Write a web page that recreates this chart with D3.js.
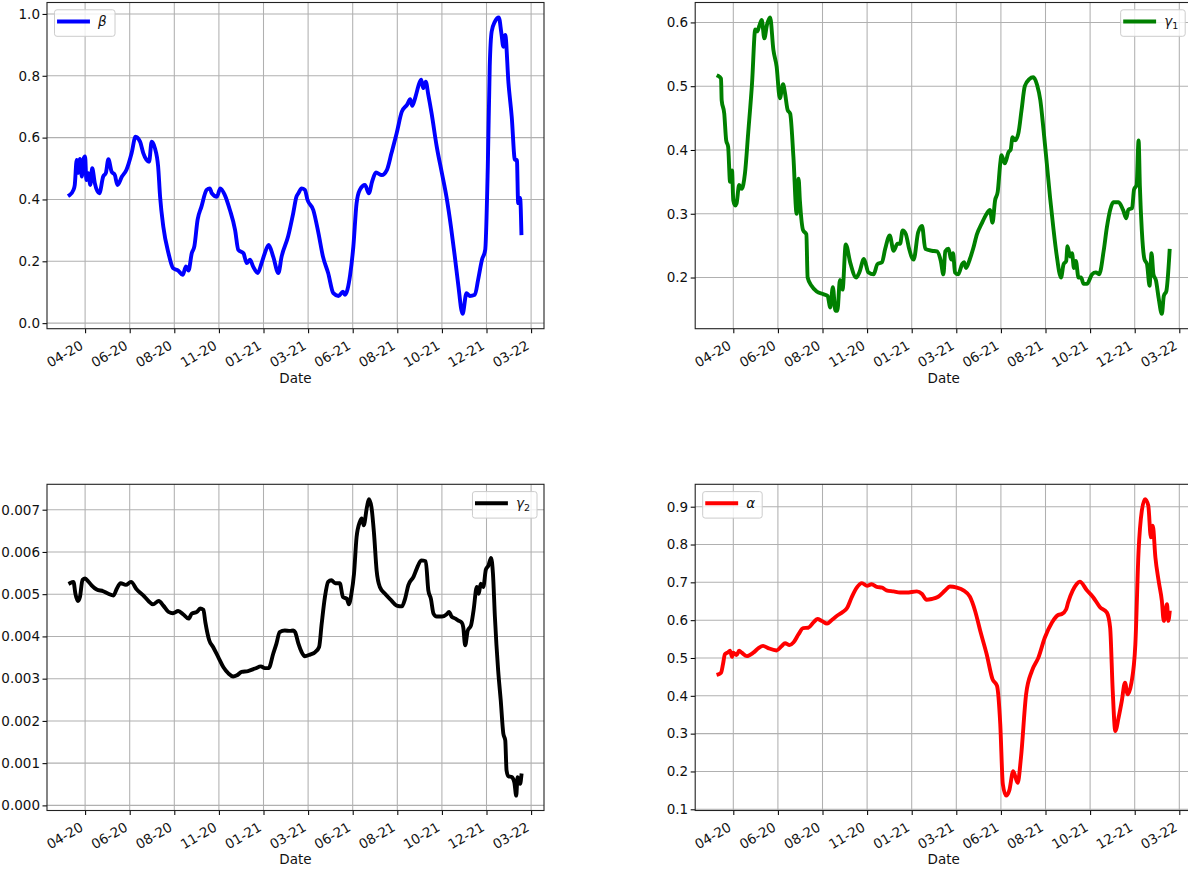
<!DOCTYPE html>
<html><head><meta charset="utf-8">
<script src="https://cdn.jsdelivr.net/npm/d3@7"></script>
<style>
body{margin:0;background:#fff}
svg{display:block}
text{font-family:"DejaVu Sans",sans-serif}
</style>
</head><body>
<svg id="c" width="1188" height="872"></svg>
<script>
// ---------------- data ----------------
// x values: days since the first observation (START_DATE)
const START_DATE = "2020-03-21";
const xTickDates = ["2020-04-14","2020-06-22","2020-08-30","2020-11-07","2021-01-15","2021-03-25","2021-06-02","2021-08-10","2021-10-18","2021-12-26","2022-03-05"];

const betaPoints = [[0,.414],[6,.431],[8,.447],[11,.528],[13,.486],[16,.531],[19,.474],[21,.528],[24,.539],[26,.463],[29,.485],[32,.447],[35,.501],[39,.453],[46,.42],[52,.474],[56,.485],[60,.53],[65,.49],[70,.479],[74,.447],[81,.474],[88,.496],[96,.55],[102,.603],[109,.587],[114,.55],[119,.528],[123,.522],[127,.587],[132,.566],[137,.506],[140,.409],[145,.312],[153,.226],[160,.178],[168,.17],[175,.156],[180,.183],[184,.17],[189,.226],[193,.248],[198,.334],[204,.377],[212,.431],[217,.436],[220,.42],[228,.409],[233,.436],[240,.415],[248,.366],[256,.302],[261,.237],[269,.226],[274,.194],[279,.205],[284,.183],[291,.162],[297,.194],[302,.226],[308,.253],[315,.215],[323,.162],[328,.215],[338,.28],[346,.356],[351,.409],[354,.42],[359,.436],[364,.431],[368,.399],[377,.366],[385,.291],[392,.215],[400,.162],[408,.097],[416,.088],[423,.102],[426,.092],[434,.156],[439,.248],[444,.388],[449,.431],[457,.447],[463,.42],[468,.458],[474,.487],[483,.479],[491,.496],[498,.55],[506,.614],[514,.684],[522,.706],[527,.724],[530,.703],[535,.731],[541,.776],[544,.787],[547,.76],[551,.781],[555,.738],[560,.679],[568,.571],[576,.485],[583,.409],[590,.312],[596,.215],[601,.129],[608,.03],[614,.097],[619,.088],[627,.092],[632,.14],[638,.205],[643,.237],[647,.506],[650,.83],[653,.943],[658,.975],[664,.989],[668,.938],[671,.894],[674,.932],[679,.776],[684,.668],[689,.528],[692,.528],[694,.388],[697,.405],[699,.291]];

const gamma1Points = [[1,.516],[5,.512],[6,.478],[10,.457],[13,.415],[16,.405],[19,.35],[22,.368],[24,.321],[27,.313],[29,.316],[33,.345],[37,.339],[42,.363],[47,.426],[53,.505],[58,.589],[61,.586],[64,.594],[68,.604],[72,.575],[76,.596],[81,.608],[86,.557],[91,.531],[96,.481],[101,.503],[104,.489],[108,.463],[112,.457],[117,.389],[122,.3],[125,.355],[127,.321],[132,.274],[137,.268],[139,.2],[145,.187],[153,.178],[163,.174],[170,.171],[174,.153],[178,.185],[182,.148],[185,.148],[189,.196],[193,.181],[198,.252],[205,.223],[214,.2],[219,.208],[226,.229],[233,.208],[241,.205],[247,.221],[254,.224],[259,.245],[266,.266],[272,.242],[278,.253],[282,.253],[286,.274],[291,.268],[296,.245],[303,.228],[310,.271],[316,.281],[321,.245],[331,.242],[339,.241],[345,.226],[349,.205],[352,.241],[357,.245],[361,.228],[364,.238],[367,.208],[372,.205],[378,.221],[381,.224],[384,.215],[390,.229],[395,.245],[401,.268],[408,.284],[416,.3],[421,.306],[425,.286],[429,.321],[433,.334],[437,.379],[439,.392],[444,.379],[450,.397],[453,.4],[456,.42],[460,.415],[465,.426],[470,.463],[475,.5],[482,.511],[488,.514],[494,.502],[499,.478],[504,.431],[509,.379],[514,.326],[519,.279],[524,.237],[531,.2],[535,.221],[539,.226],[541,.249],[545,.233],[548,.238],[551,.215],[554,.226],[558,.2],[562,.2],[566,.19],[571,.19],[579,.205],[585,.208],[590,.205],[597,.242],[602,.279],[607,.306],[612,.318],[620,.318],[627,.306],[632,.293],[635,.306],[641,.309],[644,.338],[648,.345],[651,.415],[653,.343],[656,.274],[660,.229],[664,.221],[668,.187],[671,.238],[674,.205],[678,.195],[682,.168],[687,.143],[690,.171],[694,.179],[699,.242]];

const gamma2Points = [[1,.005264],[6,.00529],[9,.00501],[13,.00484],[16,.00493],[20,.00534],[24,.00537],[29,.0053],[34,.00521],[42,.00511],[52,.00507],[60,.00501],[68,.00497],[73,.00513],[79,.00526],[87,.00522],[95,.00529],[104,.00511],[114,.00497],[122,.00484],[129,.00476],[138,.00484],[145,.00473],[153,.00458],[160,.00455],[168,.0046],[176,.00452],[184,.00442],[189,.00454],[197,.00458],[202,.00466],[207,.00463],[210,.00434],[216,.00391],[222,.00375],[230,.00351],[238,.00327],[246,.00312],[253,.00305],[259,.00308],[266,.00316],[276,.00318],[287,.00324],[296,.00329],[302,.00325],[308,.00325],[315,.00359],[320,.00383],[325,.0041],[333,.00414],[341,.00413],[346,.00414],[349,.0041],[354,.00383],[359,.00363],[364,.00353],[372,.00357],[380,.00363],[386,.00375],[390,.0043],[395,.00493],[400,.00529],[405,.00533],[411,.00526],[418,.00526],[423,.00493],[429,.00489],[432,.00476],[436,.00501],[440,.00548],[444,.00635],[449,.00671],[452,.00679],[455,.00663],[460,.00706],[463,.00725],[467,.00706],[471,.00643],[475,.00556],[480,.00517],[488,.00501],[498,.00485],[506,.00473],[514,.00471],[519,.00489],[524,.00521],[532,.00541],[537,.0056],[544,.0058],[551,.00578],[555,.00509],[559,.00489],[563,.00454],[568,.00447],[576,.00447],[583,.00452],[587,.00458],[591,.00447],[597,.00442],[601,.00438],[607,.00432],[609,.00422],[612,.00379],[616,.00414],[621,.00426],[625,.00462],[630,.00517],[633,.00501],[636,.00525],[640,.00517],[644,.00558],[648,.00568],[652,.00586],[655,.00548],[658,.00446],[663,.0032],[667,.00249],[671,.0017],[674,.00154],[676,.00083],[679,.00069],[684,.00067],[688,.00055],[691,.00023],[693,.00067],[697,.00051],[699,.00071]];

const alphaPoints = [[1,.457],[5,.461],[8,.483],[11,.51],[15,.514],[19,.519],[22,.503],[24,.514],[29,.508],[33,.519],[37,.514],[45,.505],[55,.514],[63,.526],[70,.532],[78,.526],[91,.52],[99,.532],[104,.539],[111,.534],[117,.541],[125,.563],[132,.579],[140,.58],[148,.594],[154,.603],[161,.598],[169,.591],[176,.6],[184,.611],[192,.62],[200,.632],[207,.66],[215,.686],[223,.698],[231,.691],[238,.695],[246,.688],[254,.686],[261,.679],[272,.676],[282,.673],[292,.673],[308,.676],[316,.669],[323,.654],[331,.656],[341,.662],[352,.679],[359,.689],[370,.686],[380,.679],[390,.662],[398,.625],[406,.572],[416,.51],[425,.444],[432,.426],[437,.325],[441,.166],[446,.136],[451,.15],[457,.201],[464,.17],[469,.236],[477,.404],[486,.466],[496,.501],[506,.554],[517,.594],[527,.614],[532,.616],[539,.629],[542,.647],[549,.678],[555,.695],[560,.702],[571,.679],[581,.66],[591,.635],[602,.62],[607,.58],[611,.413],[615,.307],[620,.342],[625,.386],[630,.435],[634,.404],[640,.435],[646,.536],[651,.783],[656,.889],[661,.92],[666,.903],[670,.819],[673,.85],[677,.766],[682,.704],[687,.651],[690,.598],[695,.642],[697,.598],[699,.62]];

const betaTicks = [0.0,0.2,0.4,0.6,0.8,1.0];
const gamma1Ticks = [0.2,0.3,0.4,0.5,0.6];
const gamma2Ticks = [0.000,0.001,0.002,0.003,0.004,0.005,0.006,0.007];
const alphaTicks = [0.1,0.2,0.3,0.4,0.5,0.6,0.7,0.8,0.9];
const xAxisLabel = "Date";

// ---------------- drawing ----------------
const svg = d3.select("#c");
svg.append("rect").attr("width",1188).attr("height",872).attr("fill","#fff");

const W = 497, H = 326.2;
const FS = 13.5;
const DAY = 864e5;
const start = new Date(START_DATE + "T00:00:00Z");
const toDate = d => new Date(start.getTime() + d*DAY);
const xTicks = xTickDates.map(s => new Date(s + "T00:00:00Z"));

const allDays = [betaPoints,gamma1Points,gamma2Points,alphaPoints].flat().map(p=>p[0]);
const dExt = d3.extent(allDays);
const dPad = 0.05*(dExt[1]-dExt[0]);

const panels = [
  {pts: betaPoints,  color:"#0000ff", ticks: betaTicks,  fmt: d3.format(".1f"), sym:"β", sub:null, loc:"left",  left:47,    top:2.5},
  {pts: gamma1Points,color:"#008000", ticks: gamma1Ticks,fmt: d3.format(".1f"), sym:"γ", sub:"1",  loc:"right", left:695.2, top:2.5},
  {pts: gamma2Points,color:"#000000", ticks: gamma2Ticks,fmt: d3.format(".3f"), sym:"γ", sub:"2",  loc:"right", left:47,    top:484.3},
  {pts: alphaPoints, color:"#ff0000", ticks: alphaTicks, fmt: d3.format(".1f"), sym:"α", sub:null, loc:"left",  left:695.2, top:484.3}
];

panels.forEach((p,i) => {
  const g = svg.append("g").attr("transform", `translate(${p.left},${p.top})`);
  const x = d3.scaleUtc().domain([toDate(dExt[0]-dPad), toDate(dExt[1]+dPad)]).range([0,W]);
  const vExt = d3.extent(p.pts, d=>d[1]);
  const vPad = 0.05*(vExt[1]-vExt[0]);
  const y = d3.scaleLinear().domain([vExt[0]-vPad, vExt[1]+vPad]).range([H,0]);

  // grid
  g.append("g").selectAll("line").data(xTicks).join("line")
    .attr("x1",d=>x(d)).attr("x2",d=>x(d)).attr("y1",0).attr("y2",H)
    .attr("stroke","#b0b0b0").attr("stroke-width",1.05);
  g.append("g").selectAll("line").data(p.ticks).join("line")
    .attr("x1",0).attr("x2",W).attr("y1",d=>y(d)).attr("y2",d=>y(d))
    .attr("stroke","#b0b0b0").attr("stroke-width",1.05);

  // series line
  g.append("path").datum(p.pts)
    .attr("d", d3.line().curve(d3.curveMonotoneX).x(d=>x(toDate(d[0]))).y(d=>y(d[1])))
    .attr("fill","none").attr("stroke",p.color).attr("stroke-width",3.9)
    .attr("stroke-linejoin","round").attr("stroke-linecap","square");

  // axes
  const xa = g.append("g").attr("transform",`translate(0,${H})`)
    .call(d3.axisBottom(x).tickValues(xTicks).tickFormat(d3.utcFormat("%m-%y")).tickSize(4.5));
  xa.select(".domain").remove();
  xa.selectAll(".tick line").attr("stroke","#000").attr("stroke-width",1.05);
  xa.selectAll(".tick text")
    .attr("x",0).attr("y",0).attr("dy",null)
    .attr("text-anchor","end")
    .attr("transform","translate(-1.5,19.5) rotate(-30)")
    .attr("font-size",FS).attr("fill","#111")
    .attr("font-family","DejaVu Sans");

  const ya = g.append("g")
    .call(d3.axisLeft(y).tickValues(p.ticks).tickFormat(p.fmt).tickSize(4.5).tickPadding(2.5));
  ya.select(".domain").remove();
  ya.selectAll(".tick line").attr("stroke","#000").attr("stroke-width",1.05);
  ya.selectAll(".tick text").attr("font-size",FS).attr("fill","#111").attr("font-family","DejaVu Sans");

  // frame
  g.append("rect").attr("width",W).attr("height",H)
    .attr("fill","none").attr("stroke","#222").attr("stroke-width",1.1);

  // x label
  g.append("text").attr("x",W/2).attr("y",H+54).attr("text-anchor","middle")
    .attr("font-size",FS).attr("fill","#111").text(xAxisLabel);

  // legend
  const lg = g.append("g");
  const box = lg.append("rect");
  const line = lg.append("line");
  const txt = lg.append("text").attr("font-size",FS).attr("fill","#111");
  txt.append("tspan").attr("font-style","italic").text(p.sym);
  if (p.sub) txt.append("tspan").attr("font-size",9.5).attr("dy",3).text(p.sub);
  const tw = txt.node().getBBox().width;
  const bw = 43.5 + tw + 7, bh = 26.5;
  const bx = p.loc === "left" ? 7.5 : W - 7 - bw;
  const by = 7.3;
  box.attr("x",bx).attr("y",by).attr("width",bw).attr("height",bh).attr("rx",2.5)
    .attr("fill","#fff").attr("fill-opacity",0.8).attr("stroke","#cccccc").attr("stroke-width",1);
  line.attr("x1",bx+4.5).attr("x2",bx+33.5).attr("y1",by+11.7).attr("y2",by+11.7)
    .attr("stroke",p.color).attr("stroke-width",3.9).attr("stroke-linecap","square");
  txt.attr("x",bx+43.5).attr("y",by+16.2);
});
</script>
</body></html>
